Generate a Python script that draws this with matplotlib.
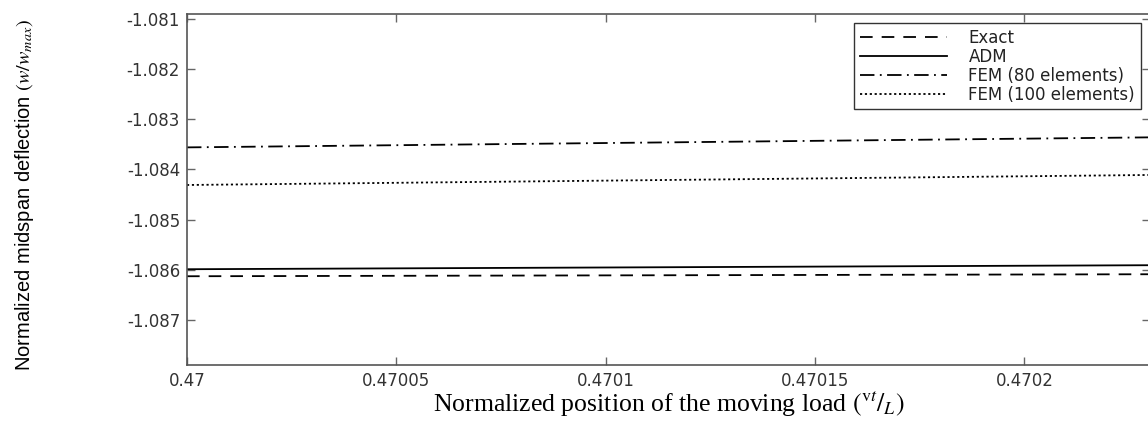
import matplotlib
matplotlib.use("Agg")
import matplotlib.pyplot as plt

plt.rcParams['mathtext.fontset'] = 'stix'

# Data
x_pos = [0.47, 0.470115, 0.47023]
exact = [-1.08613, -1.08611, -1.08609]
adm = [-1.08599, -1.08595, -1.08591]
fem80 = [-1.08356, -1.08346, -1.08336]
fem100 = [-1.08431, -1.08421, -1.08411]

labels = ['Exact', 'ADM', 'FEM (80 elements)', 'FEM (100 elements)']
xticks = [0.47, 0.47005, 0.4701, 0.47015, 0.4702]
xticklabels = ['0.47', '0.47005', '0.4701', '0.47015', '0.4702']
yticks = [-1.087, -1.086, -1.085, -1.084, -1.083, -1.082, -1.081]
yticklabels = ['-1.087', '-1.086', '-1.085', '-1.084', '-1.083', '-1.082', '-1.081']

fig = plt.figure(figsize=(11.48, 4.22), dpi=100)
ax = fig.add_axes([187/1148, 1 - 365/422, (1150-187)/1148, (365-14)/422])

lw = 1.3
ax.plot(x_pos, exact, color='black', lw=lw, linestyle=(0, (7, 5)), label=labels[0])
ax.plot(x_pos, adm, color='black', lw=lw, linestyle='-', label=labels[1])
ax.plot(x_pos, fem80, color='black', lw=lw, linestyle=(0, (8, 3, 1, 3)), label=labels[2])
ax.plot(x_pos, fem100, color='black', lw=lw, linestyle=(0, (1.2, 1.5)), label=labels[3])

ax.set_xlim(0.47, 0.47023)
ax.set_ylim(-1.0879, -1.0809)
ax.set_xticks(xticks)
ax.set_xticklabels(xticklabels)
ax.set_yticks(yticks)
ax.set_yticklabels(yticklabels)

ax.tick_params(direction='in', length=6, width=1, color='#666666',
               top=True, right=True, labelsize=12, labelcolor='#333333', pad=5)
for s in ax.spines.values():
    s.set_color('#555555')
    s.set_linewidth(1.2)

ax.set_ylabel(r'Normalized midspan deflection $\left(w/w_{max}\right)$',
              fontsize=14.5, family='Liberation Sans')
ax.yaxis.set_label_coords(-0.157, 0.485)
ax.set_xlabel(r'Normalized position of the moving load $\left(^{\mathrm{v}t}/_{L}\right)$',
              fontsize=18.5, family='Liberation Serif', labelpad=0)

leg = ax.legend(loc='upper right', frameon=True, fancybox=False,
                edgecolor='black', handlelength=5.2, handletextpad=1.3,
                labelspacing=0.05, borderpad=0.35, borderaxespad=0.55,
                prop={'family': 'DejaVu Sans', 'size': 12})
leg.get_frame().set_linewidth(1.0)
for t in leg.get_texts():
    t.set_color('#222222')

fig.savefig('out.png', dpi=100)
